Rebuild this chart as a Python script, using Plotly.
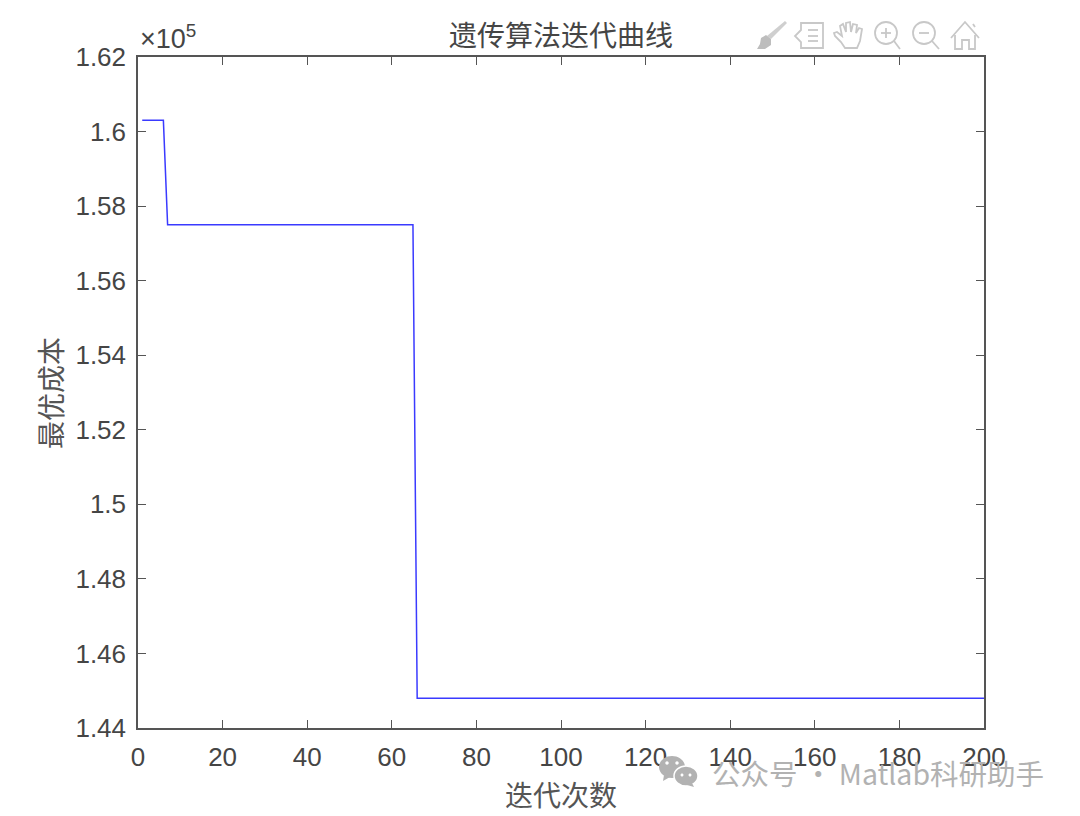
import plotly.graph_objects as go

# Data
iterations = [1, 6, 7, 65, 66, 200]
best_cost = [160300, 160300, 157500, 157500, 144800, 144800]
x_ticks = [0, 20, 40, 60, 80, 100, 120, 140, 160, 180, 200]
y_ticks = [144000, 146000, 148000, 150000, 152000, 154000, 156000, 158000, 160000, 162000]
y_tick_labels = ["1.44", "1.46", "1.48", "1.5", "1.52", "1.54", "1.56", "1.58", "1.6", "1.62"]
title_text = "遗传算法迭代曲线"
x_title = "迭代次数"
y_title = "最优成本"
watermark = "公众号 · Matlab科研助手"

W, H = 1080, 816
L, R, T, B = 138, 984, 57, 728
TXT = "#454545"
SANS = "Liberation Sans, Arial, sans-serif"
CJK = "Noto Sans CJK SC, sans-serif"
ICON = "#c8c8c8"
WM = "#b2b2b2"


def fx(x):
    return (x - L) / (R - L)


def fy(y):
    return (B - y) / (B - T)


def px(x, y):
    return f"{fx(x):.5f},{fy(y):.5f}"


def path(points, close=False):
    s = "M" + " L".join(px(*p) for p in points)
    return s + (" Z" if close else "")


def circle(cx, cy, rx, ry=None):
    ry = rx if ry is None else ry
    return (f"M{px(cx - rx, cy)} C{px(cx - rx, cy - ry * .55)} {px(cx - rx * .55, cy - ry)} {px(cx, cy - ry)} "
            f"C{px(cx + rx * .55, cy - ry)} {px(cx + rx, cy - ry * .55)} {px(cx + rx, cy)} "
            f"C{px(cx + rx, cy + ry * .55)} {px(cx + rx * .55, cy + ry)} {px(cx, cy + ry)} "
            f"C{px(cx - rx * .55, cy + ry)} {px(cx - rx, cy + ry * .55)} {px(cx - rx, cy)} Z")


def stroke(d, color=ICON, width=1.8):
    return dict(type="path", xref="paper", yref="paper", path=d, line=dict(color=color, width=width))


def fill(d, color=ICON, lc=None, lw=0):
    return dict(type="path", xref="paper", yref="paper", path=d, fillcolor=color,
                line=dict(color=lc or color, width=lw))


shapes = [
    # brush
    fill(path([(785, 21), (787, 23), (771, 39), (767, 36)], True), "#cfcfcf"),
    fill(path([(766, 35), (771, 39), (771, 45), (765, 49), (757, 49), (760, 44), (761, 38)], True), "#bdbdbd"),
    # export
    stroke(path([(801, 30), (795, 36), (801, 42), (801, 48), (823, 48), (823, 23), (801, 23)], True)),
    stroke(path([(808, 30), (818, 30)])), stroke(path([(808, 36), (818, 36)])), stroke(path([(808, 41), (818, 41)])),
    # hand
    stroke(path([(845, 48), (841, 42), (835, 36), (834, 33), (837, 32), (842, 36), (840, 26), (843, 24),
                 (846, 32), (846, 23), (850, 22), (851, 32), (853, 24), (857, 25), (856, 33), (859, 28),
                 (862, 29), (860, 41), (857, 48)], True)),
    # zoom in
    stroke(circle(886, 33, 11)), stroke(path([(894, 41), (900, 49)])),
    stroke(path([(881, 33), (891, 33)])), stroke(path([(886, 28), (886, 38)])),
    # zoom out
    stroke(circle(924, 33, 11)), stroke(path([(932, 41), (939, 49)])),
    stroke(path([(919, 33), (929, 33)])),
    # home
    stroke(path([(951, 38), (965, 22), (979, 38)])),
    stroke(path([(955, 35), (955, 49), (962, 49), (962, 40), (969, 40), (969, 49), (975, 49), (975, 35)])),
    stroke(path([(973, 24), (975, 27)])),
    # watermark logo
    fill(circle(672, 767, 13, 11), WM),
    fill(path([(664, 775), (663, 781), (670, 777)], True), WM),
    fill(circle(686, 776, 12, 10), WM, "#ffffff", 1.5),
    fill(path([(692, 783), (694, 787), (687, 785)], True), WM),
    fill(circle(667, 763, 1.7), "#ffffff"), fill(circle(677, 763, 1.7), "#ffffff"),
    fill(circle(682, 775, 1.5), "#ffffff"), fill(circle(690, 775, 1.5), "#ffffff"),
]

annotations = [
    dict(x=fx(138), y=fy(37), text="×10<sup>5</sup>", showarrow=False, xanchor="left", yanchor="middle",
         xref="paper", yref="paper", font=dict(family=SANS, size=27, color=TXT)),
    dict(x=fx(561), y=fy(34), text=title_text, showarrow=False, xanchor="center", yanchor="middle",
         xref="paper", yref="paper", font=dict(family=CJK, size=28, color=TXT)),
    dict(x=fx(561), y=fy(794), text=x_title, showarrow=False, xanchor="center", yanchor="middle",
         xref="paper", yref="paper", font=dict(family=CJK, size=28, color="#555555")),
    dict(x=fx(50), y=fy(393), text=y_title, showarrow=False, xanchor="center", yanchor="middle", textangle=-90,
         xref="paper", yref="paper", font=dict(family=CJK, size=28, color="#555555")),
    dict(x=fx(878), y=fy(772), text=watermark, showarrow=False, xanchor="center", yanchor="middle",
         xref="paper", yref="paper", font=dict(family=CJK, size=28.5, color=WM)),
]

fig = go.Figure(go.Scatter(x=iterations, y=best_cost, mode="lines",
                           line=dict(color="#3a3aff", width=1.5), hoverinfo="skip"))

axis_common = dict(showgrid=False, zeroline=False, showline=True, linecolor="#555555", linewidth=1.5,
                   mirror="ticks", ticks="inside", ticklen=8, tickwidth=1.2, tickcolor="#555555",
                   tickfont=dict(family=SANS, size=26, color=TXT))

fig.update_layout(
    width=W, height=H, autosize=False, showlegend=False,
    paper_bgcolor="#ffffff", plot_bgcolor="#ffffff",
    margin=dict(l=L, r=W - R, t=T, b=H - B, pad=0),
    xaxis=dict(range=[0, 200], tickvals=x_ticks, ticktext=[str(v) for v in x_ticks],
               ticklabelstandoff=5, **axis_common),
    yaxis=dict(range=[144000, 162000], tickvals=y_ticks, ticktext=y_tick_labels,
               ticklabelstandoff=5, **axis_common),
    shapes=shapes, annotations=annotations,
)

fig.write_html("out.html", config={"displayModeBar": False},
               post_script="document.body.style.margin='0';")
